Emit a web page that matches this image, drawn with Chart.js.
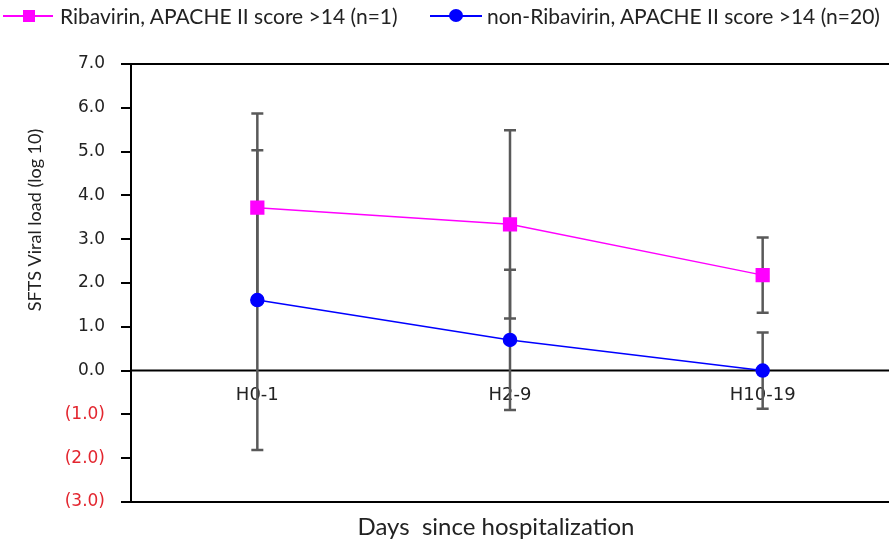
<!DOCTYPE html>
<html>
<head>
<meta charset="utf-8">
<script src="https://cdn.jsdelivr.net/npm/chart.js@4.4.1/dist/chart.umd.min.js"></script>
<style>
  body { margin: 0; background: #fff; }
  #wrap { position: relative; width: 889px; height: 542px; }
  #legend { position: absolute; left: 0; top: 4px; height: 24px; font-family: Lato, sans-serif; font-size: 21px; color: #222; white-space: nowrap; }
  .item { position: absolute; top: 0; height: 24px; line-height: 24px; }
  .swatch { position: absolute; top: 11px; height: 2px; }
  .mark { position: absolute; }
</style>
</head>
<body>
<div id="wrap">
  <canvas id="myChart" width="889" height="542"></canvas>
  <div id="legend">
    <div class="item" style="left:3px">
      <span class="swatch" style="left:0;width:50px;background:#ff00ff"></span>
      <span class="mark" style="left:20px;top:6px;width:12px;height:12px;background:#ff00ff"></span>
      <span style="position:absolute;left:57px">Ribavirin, APACHE II score &gt;14 (n=1)</span>
    </div>
    <div class="item" style="left:430px">
      <span class="swatch" style="left:0;width:52px;background:#0000ff"></span>
      <span class="mark" style="left:19px;top:5px;width:14px;height:13px;border-radius:50%;background:#0000ff"></span>
      <span style="position:absolute;left:57px">non-Ribavirin, APACHE II score &gt;14 (n=20)</span>
    </div>
  </div>
</div>
<script>
let categories = ['H0-1', 'H2-9', 'H10-19'];
let ribavirin = [3.72, 3.34, 2.18];
let ribavirinErr = [2.15, 2.15, 0.86];
let nonRibavirin = [1.61, 0.70, 0.0];
let nonRibavirinErr = [3.42, 1.60, 0.87];

// error bars, zero line, frame lines, axis titles
const extras = {
  id: 'extras',
  beforeDatasetsDraw(chart) {
    const ctx = chart.ctx;
    const x = chart.scales.x, y = chart.scales.y;
    const a = chart.chartArea;
    ctx.save();
    ctx.strokeStyle = '#000';
    ctx.lineWidth = 2;
    const y0 = y.getPixelForValue(0);
    ctx.beginPath();
    ctx.moveTo(a.left, y0); ctx.lineTo(889, y0);
    ctx.stroke();

    ctx.strokeStyle = '#595959';
    ctx.lineWidth = 2.5;
    chart.data.datasets.forEach(ds => {
      ds.data.forEach((v, i) => {
        const px = x.getPixelForValue(i);
        const top = y.getPixelForValue(v + ds.err[i]);
        const bot = y.getPixelForValue(v - ds.err[i]);
        ctx.beginPath();
        ctx.moveTo(px, top); ctx.lineTo(px, bot);
        ctx.moveTo(px - 6, top); ctx.lineTo(px + 6, top);
        ctx.moveTo(px - 6, bot); ctx.lineTo(px + 6, bot);
        ctx.stroke();
      });
    });
    ctx.restore();
  },
  afterDraw(chart) {
    const ctx = chart.ctx;
    const a = chart.chartArea;
    ctx.save();
    ctx.strokeStyle = '#000';
    ctx.lineWidth = 2;
    ctx.beginPath();
    ctx.moveTo(a.left, a.top); ctx.lineTo(889, a.top);
    ctx.moveTo(a.left, a.bottom); ctx.lineTo(889, a.bottom);
    ctx.stroke();

    ctx.fillStyle = '#222';
    ctx.textAlign = 'center';
    ctx.textBaseline = 'middle';
    ctx.font = '24px Lato';
    ctx.fillText('Days  since hospitalization', 496, 527);

    ctx.translate(35, 220);
    ctx.rotate(-Math.PI / 2);
    ctx.font = '18px Lato';
    ctx.fillText('SFTS Viral load (log 10)', 0, 0);
    ctx.restore();
  }
};

const myChart = new Chart(document.getElementById('myChart'), {
  type: 'line',
  data: {
    labels: categories,
    datasets: [{
      label: 'Ribavirin, APACHE II score >14 (n=1)',
      data: ribavirin,
      err: ribavirinErr,
      borderColor: '#ff00ff',
      backgroundColor: '#ff00ff',
      borderWidth: 1.5,
      pointStyle: 'rect',
      pointRadius: 9,
      tension: 0
    }, {
      label: 'non-Ribavirin, APACHE II score >14 (n=20)',
      data: nonRibavirin,
      err: nonRibavirinErr,
      borderColor: '#0000ff',
      backgroundColor: '#0000ff',
      borderWidth: 1.5,
      pointStyle: 'circle',
      pointRadius: 6.5,
      tension: 0
    }]
  },
  options: {
    responsive: false,
    animation: false,
    layout: { autoPadding: false, padding: { top: 64, right: -3, bottom: 40, left: 0 } },
    plugins: { legend: { display: false }, tooltip: { enabled: false } },
    scales: {
      x: {
        type: 'category',
        offset: true,
        position: { y: 0 },
        grid: { display: false, drawTicks: false },
        border: { display: false },
        ticks: { color: '#222', font: { family: 'DejaVu Sans', size: 18 }, padding: 14 }
      },
      y: {
        min: -3,
        max: 7,
        afterFit: s => { s.width = 131; },
        grid: { drawOnChartArea: false, drawTicks: true, tickLength: 10, color: '#000', lineWidth: 2 },
        border: { display: true, color: '#000', width: 2 },
        ticks: {
          stepSize: 1,
          padding: 16,
          font: { family: 'DejaVu Sans', size: 17 },
          color: c => c.tick.value < 0 ? '#e3262f' : '#222',
          callback: v => v < 0 ? '(' + (-v).toFixed(1) + ')' : v.toFixed(1)
        }
      }
    }
  },
  plugins: [extras]
});
</script>
</body>
</html>
